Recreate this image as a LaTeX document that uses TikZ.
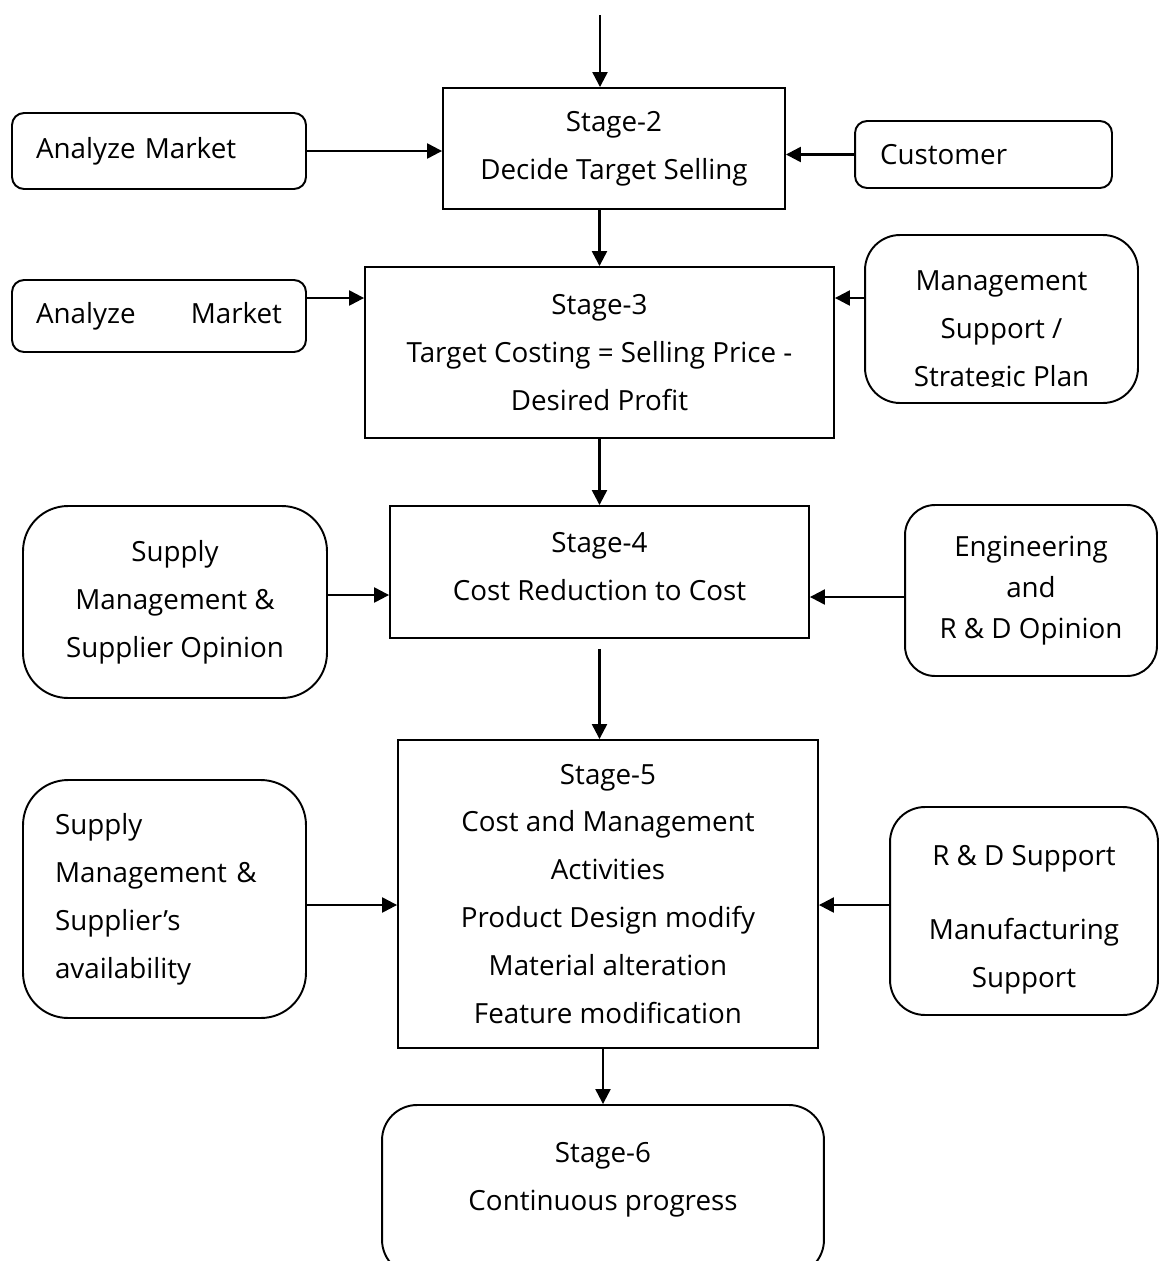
\documentclass[tikz,border=0pt]{standalone}
\usepackage{fontspec}
\setmainfont{Open Sans}
\usetikzlibrary{arrows.meta}

\tikzset{
  stagebox/.style={draw,line width=1.1pt,inner sep=0pt,align=center},
  sidebox/.style={draw,line width=1.1pt,inner sep=0pt,align=center,rounded corners=#1},
  sidebox/.default=0.24cm,
  flow/.style={line width=1.3pt,-{Triangle[length=0.3cm,width=0.3cm]}}
}

\begin{document}
\begin{tikzpicture}[x=0.02cm,y=-0.02cm,font=\fontsize{15.8}{27.3}\selectfont]
\useasboundingbox (0,0) rectangle (1160,1261);
\node[stagebox,minimum width=6.84cm,minimum height=2.42cm] (s2) at (614,148.5) {Stage-2\\Decide Target Selling};
\node[sidebox,align=left,text width=4.92cm,inner xsep=0.48cm,minimum height=1.52cm] (am1) at (159,151) {Analyze Market};
\node[sidebox,align=left,text width=4.14cm,inner xsep=0.5cm,minimum height=1.34cm] (cust) at (983.5,154.5) {Customer};
\node[stagebox,minimum width=9.38cm,minimum height=3.42cm] (s3) at (599.5,352.5) {Stage-3\\Target Costing = Selling Price -\\Desired Profit};
\node[sidebox,align=left,text width=4.92cm,inner xsep=0.48cm,minimum height=1.44cm] (am2) at (159,316) {Analyze\hfill Market};
\node[sidebox=0.7cm,minimum width=5.46cm,minimum height=3.36cm] (mgmt) at (1001.5,319) {};
\begin{scope}
\clip (865,235) rectangle (1138,386);
\node[align=center] (mgmttxt) at ([yshift=-0.26cm]mgmt.center) {Management\\Support /\\Strategic Plan};
\end{scope}
\node[stagebox,minimum width=8.38cm,minimum height=2.64cm,label={[align=center,yshift=0.11cm]center:Stage-4\\Cost Reduction to Cost}] (s4) at (599.5,572) {};
\node[sidebox=0.9cm,minimum width=6.08cm,minimum height=3.84cm] (sup4) at (175,602) {Supply\\Management \&\\Supplier Opinion};
\node[sidebox=0.6cm,minimum width=5.04cm,minimum height=3.42cm,font=\fontsize{15.8}{23.3}\selectfont] (eng) at (1031,590.5) {Engineering\\and\\R \& D Opinion};
\node[stagebox,minimum width=8.4cm,minimum height=6.16cm] (s5) at (608,894) {Stage-5\\Cost and Management\\Activities\\Product Design modify\\Material alteration\\Feature modification};
\node[sidebox=0.9cm,align=left,text width=4.38cm,inner xsep=0.64cm,minimum height=4.76cm] (sup5) at (164.5,899) {Supply\\Management \&\\Supplier’s\\availability};
\node[sidebox=0.7cm,minimum width=5.36cm,minimum height=4.16cm,label={[align=center,yshift=-0.18cm]center:R \& D Support\\[0.52cm]Manufacturing\\Support}] (rd5) at (1024,911) {};
\node[sidebox=0.7cm,minimum width=8.84cm,minimum height=3.4cm,label={[align=center,yshift=0.2cm]center:Stage-6\\Continuous progress}] (s6) at (603,1190) {};
% side inputs
\coordinate (top) at (600,15);
\coordinate (a2) at ([yshift=0.36cm]am2.east);
\coordinate (m3) at ([yshift=0.42cm]mgmt.west);
\coordinate (p4) at ([yshift=0.14cm]sup4.east);
\coordinate (e4) at ([yshift=-0.13cm]eng.west);
\coordinate (p5) at ([yshift=-0.12cm]sup5.east);
\coordinate (r5) at ([yshift=0.12cm]rd5.west);
\draw[flow] (top) -- (top |- s2.north);
\draw[flow] (am1.east) -- (am1.east -| s2.west);
\draw[flow] (cust.west) -- (cust.west -| s2.east);
\draw[flow] (s3.north |- s2.south) -- (s3.north);
\draw[flow] (a2) -- (a2 -| s3.west);
\draw[flow] (m3) -- (m3 -| s3.east);
\draw[flow] (s3.south) -- (s4.north);
\draw[flow] (p4) -- (p4 -| s4.west);
\draw[flow] (e4) -- (e4 -| s4.east);
\draw[flow] ([yshift=-0.2cm]s4.south) -- (s4.south |- s5.north);
\draw[flow] (p5) -- (p5 -| s5.west);
\draw[flow] (r5) -- (r5 -| s5.east);
\draw[flow] (s6.north |- s5.south) -- (s6.north);
\end{tikzpicture}
\end{document}
